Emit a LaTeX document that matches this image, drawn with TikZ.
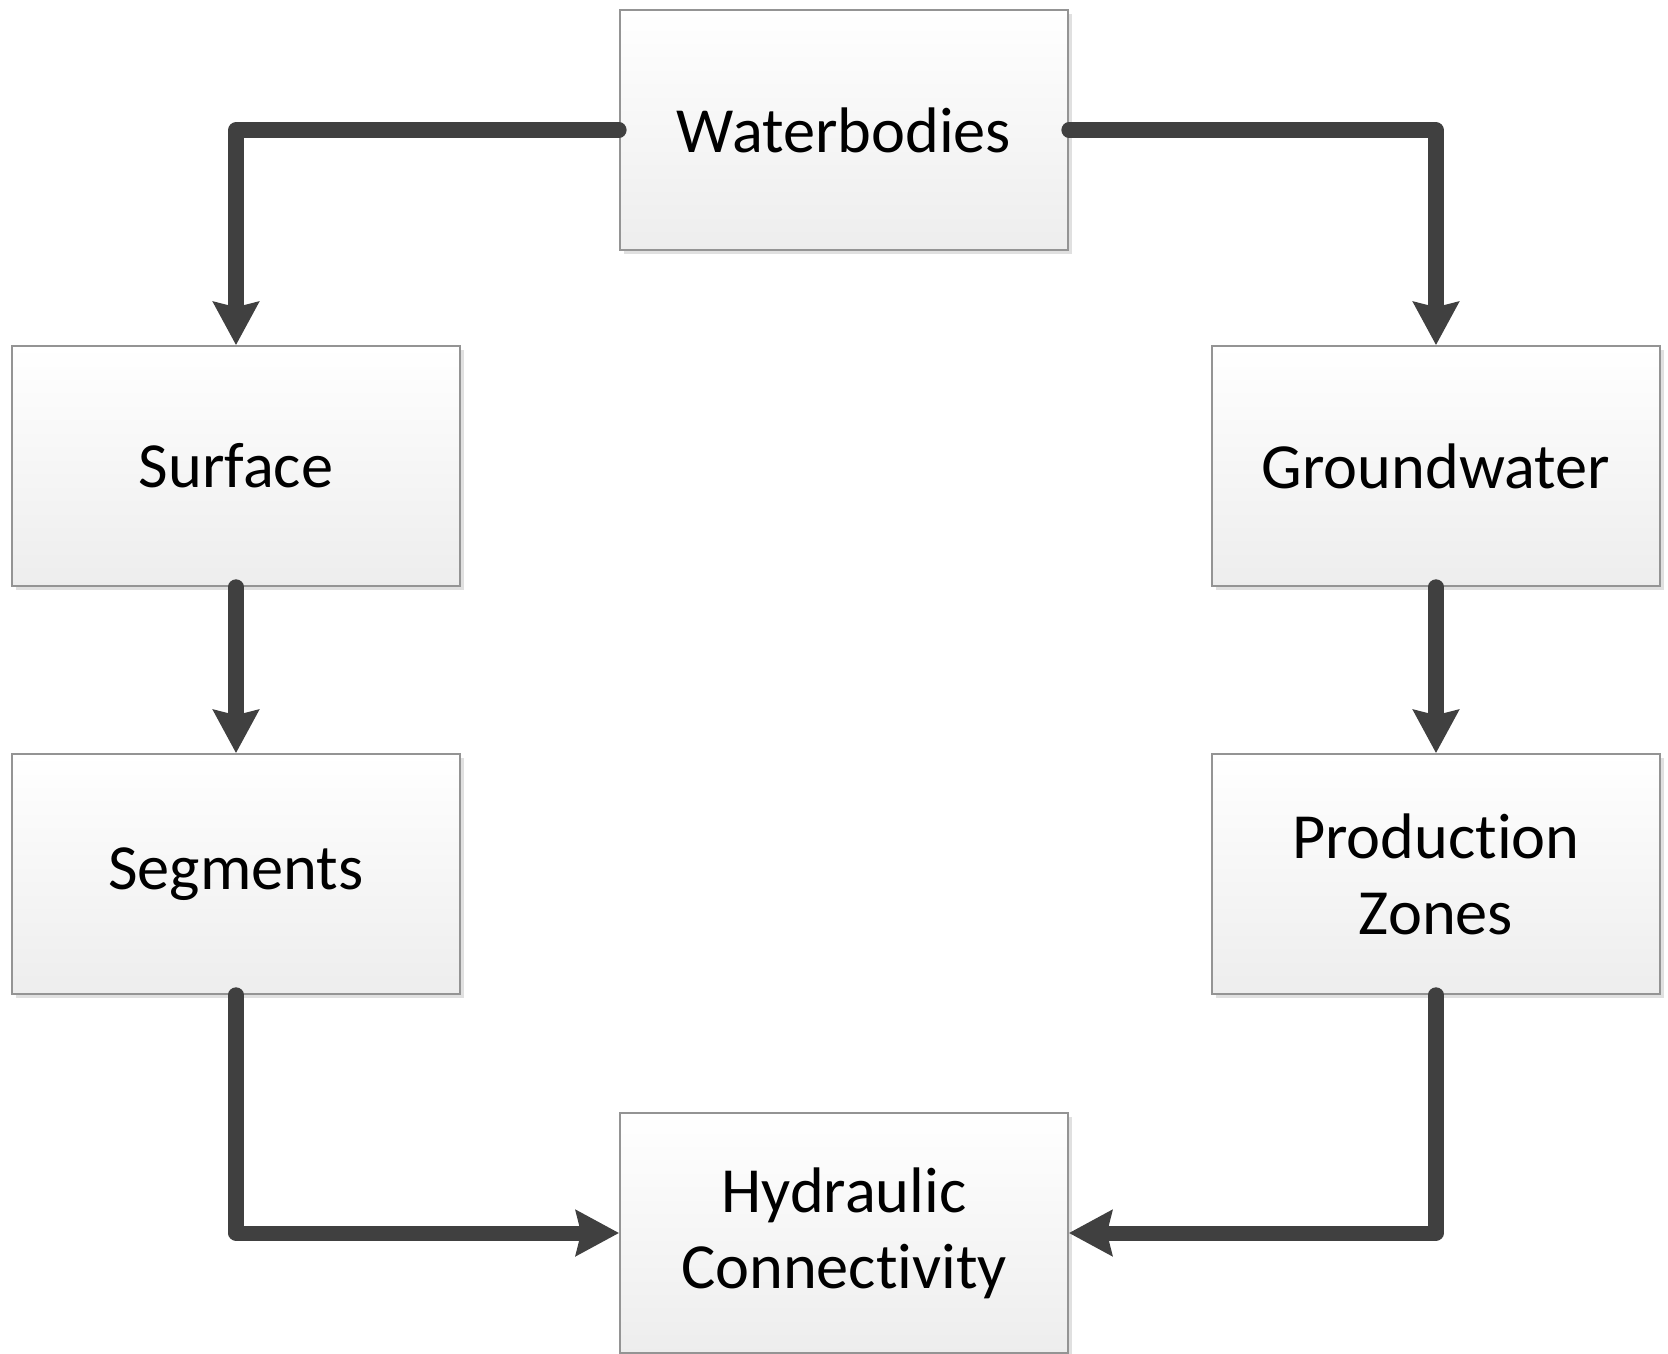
\documentclass[tikz,border=0pt]{standalone}
\usepackage{fontspec}
\setmainfont{Carlito}[Ligatures=NoCommon]
\usetikzlibrary{arrows.meta,shadows}

\tikzset{
  stagebox/.style={draw=black!42, line width=0.015cm, rectangle,
    top color=white, bottom color=black!7,
    minimum width=4.48cm, minimum height=2.40cm, align=center,
    font=\fontsize{18.3}{21.6}\selectfont,
    drop shadow={shadow xshift=0.04cm, shadow yshift=-0.04cm, fill=black!12, opacity=1}},
  flowline/.style={draw=black!75, line width=0.15cm, line cap=round, line join=round,
    -{Stealth[length=0.43cm, width=0.45cm, inset=0.05cm]}}
}

\begin{document}
\begin{tikzpicture}[x=0.01cm, y=-0.01cm]
		%%%%% FRAME %%%%%
		\useasboundingbox (0, 0) rectangle (1668, 1354);
		
		%%%%% BOXES %%%%%
		\node[stagebox] (waterbodies) at (844, 130) {Waterbodies};
		\node[stagebox] (surface) at (236, 466) {Surface};
		\node[stagebox] (groundwater) at (1436, 466) {Groundwater};
		\node[stagebox] (segments) at (236, 874) {Segments};
		\node[stagebox] (zones) at (1436, 874) {Production\\Zones};
		\node[stagebox] (hydraulic) at (844, 1233) {Hydraulic\\Connectivity};
		
		%%%%% LINKS %%%%%
		\draw[flowline] (waterbodies.west) -| (surface.north);
		\draw[flowline] (waterbodies.east) -| (groundwater.north);
		\draw[flowline] (surface.south) -- (segments.north);
		\draw[flowline] (groundwater.south) -- (zones.north);
		\draw[flowline] (segments.south) |- (hydraulic.west);
		\draw[flowline] (zones.south) |- (hydraulic.east);
		
	\end{tikzpicture}
\end{document}
